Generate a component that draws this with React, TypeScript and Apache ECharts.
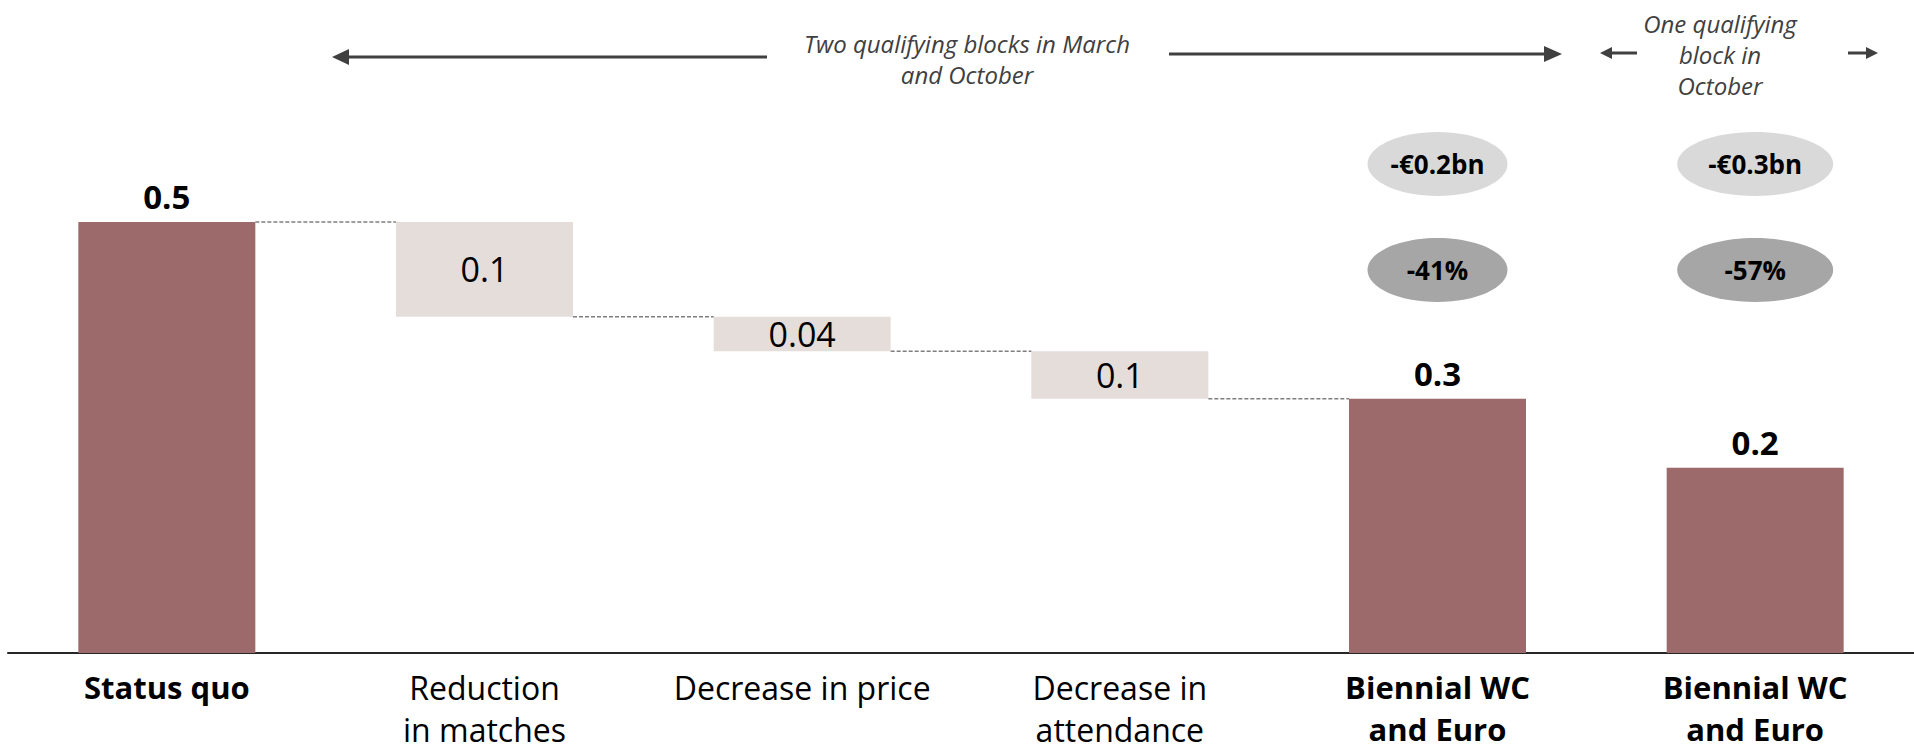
import React, { useEffect, useRef } from "react";
import * as echarts from "echarts";

// Revenue bridge (in €bn): status quo, the three reductions, and the two biennial scenarios
const categories = [
  "Status quo",
  "Reduction\nin matches",
  "Decrease in price",
  "Decrease in\nattendance",
  "Biennial WC\nand Euro",
  "Biennial WC\nand Euro",
];
const isTotal = [true, false, false, false, true, true];
const values = [0.5, 0.11, 0.04, 0.055, 0.295, 0.215];

const topNote = "Two qualifying blocks in March\nand October";
const sideNote = "One qualifying\nblock in\nOctober";

const BAR_WIDTH = 177;
const FONT = "'Open Sans', 'Noto Sans', sans-serif";
const TOTAL_COLOR = "#9C6A6A";
const STEP_COLOR = "#E5DDDA";
const ARROW_COLOR = "#404040";

const fmt = (v: number) => {
  const one = v.toFixed(1);
  return one === "0.0" ? v.toFixed(2) : one;
};

// Floating bases for the reductions; totals start at zero
const bases: number[] = [];
const levels: number[][] = [];
{
  let level = values[0];
  values.forEach((v, i) => {
    if (isTotal[i]) {
      bases.push(0);
      if (i === 0) level = v;
    } else {
      level = level - v;
      bases.push(level);
    }
  });
  // connector level leaving each bar up to the first biennial total
  let run = values[0];
  for (let i = 0; i < 4; i++) {
    if (i > 0) run = run - values[i];
    levels.push([i, run]);
  }
}

function arrow(x1: number, x2: number, y: number, head: number, half: number) {
  const dir = x2 > x1 ? 1 : -1;
  return [
    {
      type: "line",
      shape: { x1, y1: y, x2: x2 - dir * head, y2: y },
      style: { stroke: ARROW_COLOR, lineWidth: 3 },
    },
    {
      type: "polygon",
      shape: {
        points: [
          [x2, y],
          [x2 - dir * head, y - half],
          [x2 - dir * head, y + half],
        ],
      },
      style: { fill: ARROW_COLOR },
    },
  ];
}

export default function App() {
  const ref = useRef<HTMLDivElement>(null);

  useEffect(() => {
    if (!ref.current) return;
    const chart = echarts.init(ref.current, null, { renderer: "svg" });

    const option: any = {
      animation: false,
      backgroundColor: "#ffffff",
      grid: { left: 8, right: 0, top: 49.6, bottom: 98, containLabel: false },
      xAxis: {
        type: "category",
        data: categories,
        axisTick: { show: false },
        axisLine: { lineStyle: { color: "#262626", width: 2 } },
        axisLabel: {
          interval: 0,
          margin: 13,
          formatter: (value: string, index: number) =>
            isTotal[index] ? `{b|${value}}` : `{n|${value}}`,
          rich: {
            b: { fontFamily: FONT, fontSize: 31, fontWeight: "bold", color: "#000", lineHeight: 42 },
            n: { fontFamily: FONT, fontSize: 32, color: "#000", lineHeight: 42 },
          },
        },
      },
      yAxis: { type: "value", min: 0, max: 0.7, show: false, splitLine: { show: false } },
      series: [
        {
          type: "bar",
          stack: "wf",
          barWidth: BAR_WIDTH,
          data: bases,
          itemStyle: { color: "transparent" },
          silent: true,
        },
        {
          type: "bar",
          stack: "wf",
          barWidth: BAR_WIDTH,
          data: values.map((v, i) => ({
            value: v,
            itemStyle: { color: isTotal[i] ? TOTAL_COLOR : STEP_COLOR },
            label: isTotal[i]
              ? { position: "top", distance: 9, fontWeight: "bold", fontSize: 33 }
              : { position: "inside", fontWeight: "normal", fontSize: 34 },
          })),
          label: {
            show: true,
            fontFamily: FONT,
            color: "#000",
            formatter: (p: any) => fmt(p.value),
          },
        },
        {
          type: "custom",
          data: levels,
          encode: { x: 0, y: 1 },
          silent: true,
          z: 5,
          renderItem: (params: any, api: any) => {
            const i = api.value(0);
            const y = api.value(1);
            const p0 = api.coord([i, y]);
            const p1 = api.coord([i + 1, y]);
            return {
              type: "line",
              shape: {
                x1: p0[0] + BAR_WIDTH / 2,
                y1: p0[1],
                x2: p1[0] - BAR_WIDTH / 2,
                y2: p1[1],
              },
              style: { stroke: "#7F7F7F", lineWidth: 1.5, lineDash: [4, 2] },
            };
          },
        },
      ],
    };
    chart.setOption(option);

    // Change badges above the two biennial totals
    const start = values[0];
    const badges: any[] = [];
    values.forEach((v, i) => {
      if (!isTotal[i] || i === 0) return;
      const x = chart.convertToPixel({ xAxisIndex: 0 }, i) as number;
      const rx = i === 4 ? 70 : 78;
      const drop = start - v;
      const pct = Math.round((v / start - 1) * 100);
      badges.push(
        {
          type: "ellipse",
          shape: { cx: x, cy: 164, rx, ry: 32 },
          style: { fill: "#D9D9D9" },
        },
        {
          type: "text",
          x,
          y: 164,
          style: {
            text: `-€${drop.toFixed(1)}bn`,
            fontFamily: FONT,
            fontSize: 26,
            fontWeight: "bold",
            fill: "#000",
            align: "center",
            verticalAlign: "middle",
          },
        },
        {
          type: "ellipse",
          shape: { cx: x, cy: 270, rx, ry: 32 },
          style: { fill: "#A6A6A6" },
        },
        {
          type: "text",
          x,
          y: 270,
          style: {
            text: `${pct}%`,
            fontFamily: FONT,
            fontSize: 26,
            fontWeight: "bold",
            fill: "#000",
            align: "center",
            verticalAlign: "middle",
          },
        }
      );
    });

    const noteStyle = {
      fontFamily: FONT,
      fontSize: 24,
      fontStyle: "italic",
      fill: "#404040",
      align: "center",
      verticalAlign: "middle",
      lineHeight: 31,
    };

    chart.setOption({
      graphic: [
        ...arrow(767, 332, 57, 17, 8),
        ...arrow(1169, 1562, 54, 18, 8),
        ...arrow(1637, 1600, 53, 12, 6),
        ...arrow(1848, 1878, 53, 12, 6),
        { type: "text", x: 967, y: 58.5, style: { ...noteStyle, text: topNote } },
        { type: "text", x: 1720, y: 54, style: { ...noteStyle, text: sideNote } },
        ...badges,
      ],
    });

    return () => chart.dispose();
  }, []);

  return (
    <div
      ref={ref}
      style={{ position: "absolute", left: 0, top: 0, width: 1914, height: 751 }}
    />
  );
}
